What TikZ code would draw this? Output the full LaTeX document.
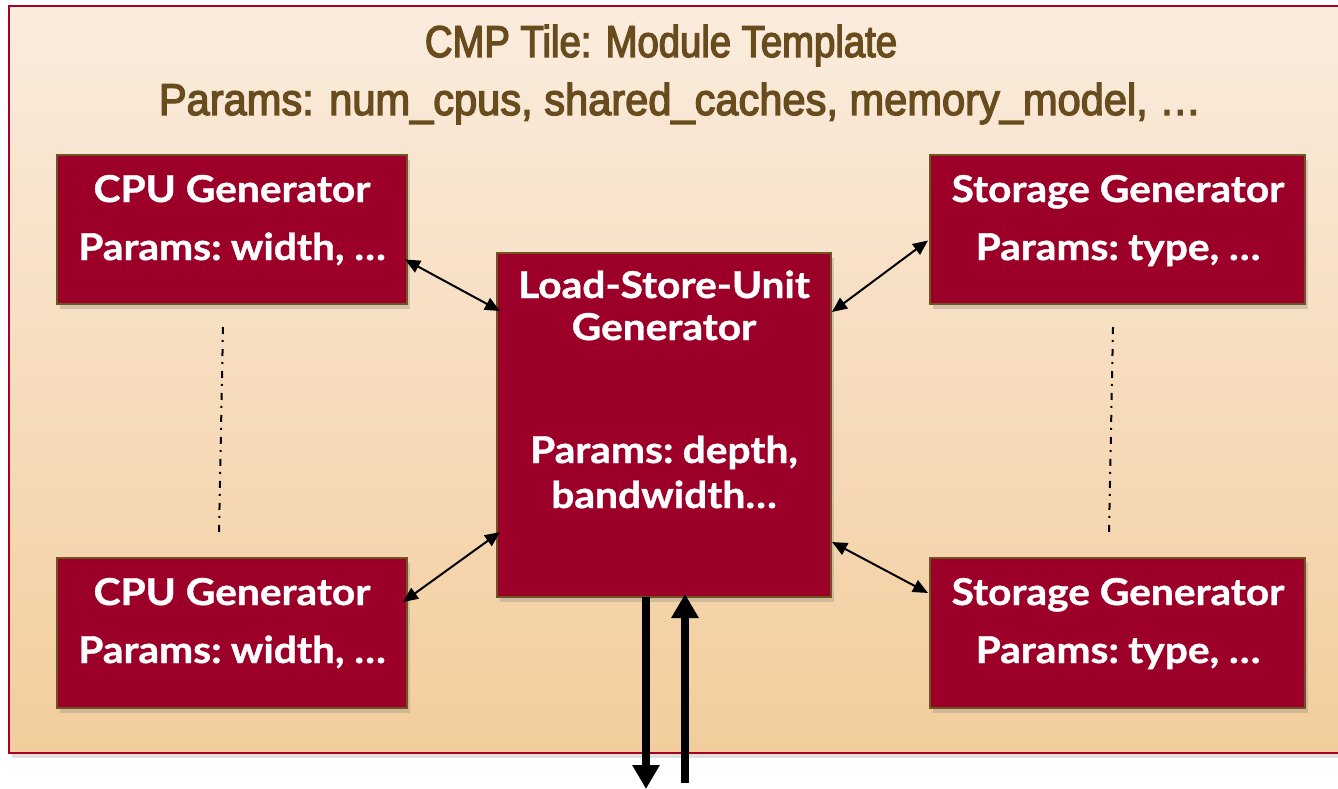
\documentclass[tikz,border=0pt]{standalone}
\usepackage{fontspec}
\newfontfamily\titlefont[FakeStretch=0.86,FakeBold=3]{Liberation Sans}
\newfontfamily\paramfont[FakeStretch=0.935,FakeBold=3]{Liberation Sans}
\newfontfamily\boxfont[FakeStretch=1.1,FakeBold=1]{Lato}
\usetikzlibrary{arrows.meta,shadows,calc}
\definecolor{tileTop}{RGB}{250,236,222}
\definecolor{tileBot}{RGB}{243,205,156}
\definecolor{tileRed}{RGB}{168,0,36}
\definecolor{genFill}{RGB}{156,0,40}
\definecolor{genLine}{RGB}{110,84,32}
\definecolor{titleCol}{RGB}{104,76,30}
\tikzset{
  tilebox/.style={draw=tileRed, line width=2pt, top color=tileTop, bottom color=tileBot,
    inner sep=0pt, outer sep=0pt, anchor=north west,
    drop shadow={opacity=0.25, shadow xshift=3pt, shadow yshift=-5pt}},
  gen/.style={draw=genLine, line width=2pt, fill=genFill, inner sep=0pt, outer sep=0pt,
    anchor=north west,
    drop shadow={opacity=0.3, shadow xshift=3pt, shadow yshift=-5pt}},
  lbl/.style={text=white, font=\boxfont\bfseries\fontsize{37}{42}\selectfont, anchor=base, inner sep=0pt},
  ttl/.style={text=titleCol, font=\titlefont\fontsize{44.5}{50}\selectfont, anchor=base, inner sep=0pt},
  prm/.style={text=titleCol, font=\paramfont\fontsize{44.5}{50}\selectfont, anchor=base, inner sep=0pt},
  biarrow/.style={line width=2pt, {Triangle[length=15pt,width=13pt]}-{Triangle[length=15pt,width=13pt]}},
  bigarrow/.style={line width=8pt, -{Triangle[length=24pt,width=26pt]}},
  dashdot/.style={line width=2pt, dash pattern=on 7pt off 6pt on 2pt off 7pt}
}
\begin{document}
\begin{tikzpicture}[x=1pt,y=-1pt]
\useasboundingbox (0,0) rectangle (1338,789);
\node[tilebox, minimum width=1345pt, minimum height=747pt] (tile) at (9,6) {};
\node[ttl] (title1) at (661,57) {CMP Tile: Module Template};
\node[prm] (title2) at (680,115) {Params: num\_cpus, shared\_caches, memory\_model, …};
% generators
\node[gen, minimum width=350pt, minimum height=149pt] (cpu1) at (57,155) {};
\node[gen, minimum width=350pt, minimum height=150pt] (cpu2) at (57,558) {};
\node[gen, minimum width=375pt, minimum height=149pt] (stor1) at (930,155) {};
\node[gen, minimum width=375pt, minimum height=150pt] (stor2) at (930,558) {};
\node[gen, minimum width=334pt, minimum height=344pt] (lsu) at (497,253) {};
% labels
\node[lbl] (cpu1a) at (232,202) {CPU Generator};
\node[lbl] (cpu1b) at (232,260) {Params:\hspace{-4pt} width, …};
\node[lbl] (cpu2a) at (232,605) {CPU Generator};
\node[lbl] (cpu2b) at (232,663) {Params:\hspace{-4pt} width, …};
\node[lbl] (stor1a) at (1118,202) {Storage Generator};
\node[lbl] (stor1b) at (1118,260) {Params:\hspace{-4pt} type, …};
\node[lbl] (stor2a) at (1118,605) {Storage Generator};
\node[lbl] (stor2b) at (1118,663) {Params:\hspace{-4pt} type, …};
\node[lbl] (lsua) at (664,298) {Load-Store-Unit};
\node[lbl] (lsub) at (664,340) {Generator};
\node[lbl] (lsuc) at (664,463) {Params:\hspace{-4pt} depth,};
\node[lbl] (lsud) at (664,508) {bandwidth…};
% dash-dot separators
\draw[dashdot] ($(cpu1.south)+(-9,23)$) -- ($(cpu2.north)+(-13,-25)$);
\draw[dashdot] ($(stor1.south)+(-4.5,23)$) -- ($(stor2.north)+(-8.5,-25)$);
% thin arrows
\draw[biarrow] ($(cpu1.east)+(-2,30)$) -- ($(lsu.north west)+(3,58)$);
\draw[biarrow] ($(cpu2.east)+(-4,-31)$) -- ($(lsu.south west)+(3,-65)$);
\draw[biarrow] ($(stor1.west)+(-2,11)$) -- ($(lsu.north east)+(1,59)$);
\draw[biarrow] ($(stor2.west)+(-2,-40)$) -- ($(lsu.south east)+(1,-55)$);
% thick arrows
\coordinate (outd) at (646,789);
\coordinate (inu) at (685,783);
\draw[bigarrow] ($(lsu.south)+(-18,0)$) -- (outd);
\draw[bigarrow] (inu) -- ($(lsu.south)+(21,-3)$);
\end{tikzpicture}
\end{document}
